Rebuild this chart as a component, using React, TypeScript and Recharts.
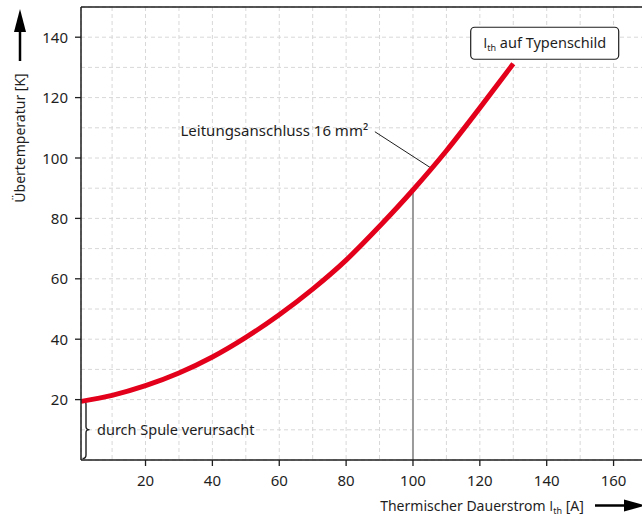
import React from "react";
import {
  LineChart,
  Line,
  XAxis,
  YAxis,
  CartesianGrid,
  ReferenceLine,
  ReferenceDot,
  Customized,
} from "recharts";

const currentA = [0.7, 10, 20, 30, 40, 50, 60, 70, 80, 90, 100, 110, 120, 130];
const tempK = [19.4, 21.4, 24.6, 28.8, 34.1, 40.6, 48.1, 56.6, 66.2, 77.4, 89.4, 102.4, 116.6, 131.2];
const xTicks = [10, 20, 30, 40, 50, 60, 70, 80, 90, 100, 110, 120, 130, 140, 150, 160];
const yTicks = [10, 20, 30, 40, 50, 60, 70, 80, 90, 100, 110, 120, 130, 140];

const data = currentA.map((x, i) => ({ x, y: tempK[i] }));

const FONT = "'Noto Sans', 'Open Sans', sans-serif";
const PLAIN_I = "'Open Sans', 'DejaVu Sans', sans-serif";
const INK = "#1e1e1e";
const RED = "#e3001b";

const XTick = (p: any) => {
  const { x, y, payload } = p;
  if (payload.value % 20 !== 0) return <g />;
  return (
    <g>
      <line x1={x} x2={x} y1={y - 14} y2={y - 8} stroke={INK} strokeWidth={1.3} />
      <text x={x} y={y + 12} textAnchor="middle" fontFamily={FONT} fontSize={15} fill={INK}>
        {payload.value}
      </text>
    </g>
  );
};

const YTick = (p: any) => {
  const { x, y, payload } = p;
  if (payload.value % 20 !== 0) return <g />;
  return (
    <g>
      <line x1={x + 7} x2={x + 13} y1={y} y2={y} stroke={INK} strokeWidth={1.3} />
      <text x={x} y={y + 5.5} textAnchor="end" fontFamily={FONT} fontSize={15} fill={INK}>
        {payload.value}
      </text>
    </g>
  );
};

const Brace = (p: any) => {
  const x = Math.min(p.x1, p.x2);
  const top = Math.min(p.y1, p.y2);
  const bot = Math.max(p.y1, p.y2);
  const mid = (top + bot) / 2;
  const d = `M ${x + 1.5} ${top} Q ${x + 5} ${top} ${x + 5} ${top + 3.5} L ${x + 5} ${mid - 3} Q ${x + 5} ${mid} ${x + 8.5} ${mid} Q ${x + 5} ${mid} ${x + 5} ${mid + 3} L ${x + 5} ${bot - 3.5} Q ${x + 5} ${bot} ${x + 1.5} ${bot}`;
  return (
    <g>
      <path d={d} fill="none" stroke={INK} strokeWidth={1.4} />
      <text x={x + 16} y={mid + 5} fontFamily={FONT} fontSize={14.5} fill={INK}>
        durch Spule verursacht
      </text>
    </g>
  );
};

const LeaderText = (p: any) => (
  <text x={p.cx} y={p.cy + 5} textAnchor="end" fontFamily={FONT} fontSize={15} fill={INK}>
    Leitungsanschluss 16 mm²
  </text>
);

const NameplateBox = (p: any) => {
  const w = 148;
  const h = 32;
  return (
    <g>
      <rect x={p.cx - w / 2} y={p.cy - h / 2} width={w} height={h} rx={4} ry={4} fill="#fff" stroke={INK} strokeWidth={1.2} />
      <text x={p.cx} y={p.cy + 5} textAnchor="middle" fontFamily={FONT} fontSize={14.5} fill={INK}>
        <tspan fontFamily={PLAIN_I}>I</tspan>
        <tspan fontSize={9} dy={3}>th</tspan>
        <tspan dy={-3}> auf Typenschild</tspan>
      </text>
    </g>
  );
};

const Titles = () => (
  <g>
    <text
      transform="translate(25,138) rotate(-90)"
      textAnchor="middle"
      fontFamily={FONT}
      fontSize={14}
      fill={INK}
    >
      Übertemperatur [K]
    </text>
    <line x1={20} x2={20} y1={61} y2={28} stroke="#000" strokeWidth={2.5} />
    <path d="M 20 9 L 26 32 L 14 32 Z" fill="#000" />
    <text x={482} y={511} textAnchor="middle" fontFamily={FONT} fontSize={14} fill={INK}>
      Thermischer Dauerstrom <tspan fontFamily={PLAIN_I}>I</tspan>
      <tspan fontSize={9} dy={3}>th</tspan>
      <tspan dy={-3}> [A]</tspan>
    </text>
    <line x1={595} x2={628} y1={505.5} y2={505.5} stroke="#000" strokeWidth={2.5} />
    <path d="M 646 505.5 L 624 499.5 L 624 511.5 Z" fill="#000" />
  </g>
);

export default function App() {
  return (
    <div style={{ position: "absolute", left: 0, top: 0, width: 642, height: 516, overflow: "hidden", background: "#fff" }}>
      <LineChart width={660} height={516} data={data} margin={{ top: 7, right: 13, bottom: 55, left: 80 }}>
        <CartesianGrid stroke="#d8d8d8" strokeDasharray="4 3" strokeWidth={1} />
        <XAxis
          dataKey="x"
          type="number"
          domain={[0.7, 170]}
          allowDataOverflow
          ticks={xTicks}
          interval={0}
          height={1}
          tickSize={6}
          tickMargin={8}
          tickLine={false}
          tick={<XTick />}
          axisLine={{ stroke: INK, strokeWidth: 1.5 }}
        />
        <YAxis
          type="number"
          domain={[0, 150]}
          allowDataOverflow
          ticks={yTicks}
          interval={0}
          width={1}
          tickSize={6}
          tickMargin={7}
          tickLine={false}
          tick={<YTick />}
          axisLine={{ stroke: INK, strokeWidth: 1.5 }}
        />
        <ReferenceLine y={150} stroke={INK} strokeWidth={1.5} />
        <ReferenceLine
          segment={[{ x: 100, y: 0 }, { x: 100, y: 89.4 }]}
          stroke="#9a9a9a"
          strokeWidth={2}
        />
        <ReferenceLine
          segment={[{ x: 88.6, y: 108.7 }, { x: 105.5, y: 96.6 }]}
          stroke={INK}
          strokeWidth={1}
        />
        <ReferenceLine
          segment={[{ x: 0.7, y: 0.5 }, { x: 0.7, y: 19.6 }]}
          shape={<Brace />}
        />
        <Line
          type="monotone"
          dataKey="y"
          stroke={RED}
          strokeWidth={5}
          dot={false}
          isAnimationActive={false}
        />
        <ReferenceDot x={86.6} y={109} r={0} shape={<LeaderText />} />
        <ReferenceDot x={139.4} y={138} r={0} shape={<NameplateBox />} />
        <Customized component={<Titles />} />
      </LineChart>
    </div>
  );
}
